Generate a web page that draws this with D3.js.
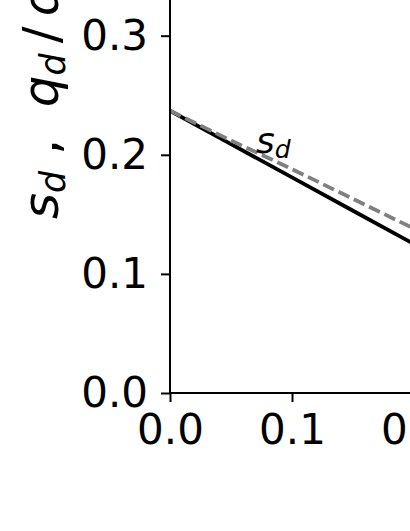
<!DOCTYPE html>
<html>
<head>
<meta charset="utf-8">
<script src="https://cdn.jsdelivr.net/npm/d3@7"></script>
<style>
  html, body { margin: 0; padding: 0; background: #fff; overflow: hidden; }
  svg { display: block; }
  text { white-space: pre; }
</style>
</head>
<body>
<div id="chart"></div>
<script>
const xValues = [0, 0.05, 0.1, 0.15, 0.2, 0.25];
const sdValues = [0.237, 0.209, 0.181, 0.153, 0.125, 0.097];
const qdValues = [0.237, 0.212, 0.188, 0.163, 0.138, 0.114];
const xTicks = [0, 0.1, 0.2];
const yTicks = [0, 0.1, 0.2, 0.3];

const W = 410, H = 531;
const font = "'DejaVu Sans', sans-serif";

const svg = d3.select('#chart').append('svg')
  .attr('width', W).attr('height', H);

const x = d3.scaleLinear().domain([0, 0.3]).range([170, 170 + 0.3 * 1220]);
const y = d3.scaleLinear().domain([0, 0.35]).range([393, 393 - 0.35 * 1191]);

const line = d3.line().x(d => x(d[0])).y(d => y(d[1]));

// Curves
svg.append('path')
  .datum(xValues.map((v, i) => [v, sdValues[i]]))
  .attr('fill', 'none').attr('stroke', '#000').attr('stroke-width', 3.8)
  .attr('d', line);

svg.append('path')
  .datum(xValues.map((v, i) => [v, qdValues[i]]))
  .attr('fill', 'none').attr('stroke', '#808080').attr('stroke-width', 3.8)
  .attr('stroke-dasharray', '12 5')
  .attr('d', line);

// Axes
const xAxis = svg.append('g').attr('transform', `translate(0,${y(0)})`)
  .call(d3.axisBottom(x).tickValues(xTicks).tickFormat(d3.format('.1f')).tickSize(9).tickPadding(12));
xAxis.select('.domain').attr('d', `M${x(0)},0H${W + 5}`);

const yAxis = svg.append('g').attr('transform', `translate(${x(0)},0)`)
  .call(d3.axisLeft(y).tickValues(yTicks).tickFormat(d3.format('.1f')).tickSize(9).tickPadding(13));
yAxis.select('.domain').attr('d', `M0,${y(0)}V-5`);

[xAxis, yAxis].forEach(a => {
  a.selectAll('line, path').attr('stroke', '#000').attr('stroke-width', 2);
  a.selectAll('text').attr('fill', '#000').attr('font-family', font).attr('font-size', '42px');
});

// Curve label
const lab = svg.append('text')
  .attr('x', 256).attr('y', 153)
  .attr('font-family', font).attr('font-size', '36px').attr('font-style', 'italic');
lab.append('tspan').text('s');
lab.append('tspan').attr('font-size', '25px').attr('dy', 5).text('d');

// Y label
const yl = svg.append('text')
  .attr('transform', 'translate(58,219) rotate(-90)')
  .attr('font-family', font).attr('font-size', '50px');
yl.append('tspan').attr('font-style', 'italic').text('s');
yl.append('tspan').attr('font-style', 'italic').attr('font-size', '35px').attr('dy', 7).text('d');
yl.append('tspan').attr('dy', -7).text(' ,  ');
yl.append('tspan').attr('font-style', 'italic').text('q');
yl.append('tspan').attr('font-style', 'italic').attr('font-size', '35px').attr('dy', 7).text('d');
yl.append('tspan').attr('dy', -7).text('\u2009/\u2009');
yl.append('tspan').attr('font-style', 'italic').text('d');
</script>
</body>
</html>
